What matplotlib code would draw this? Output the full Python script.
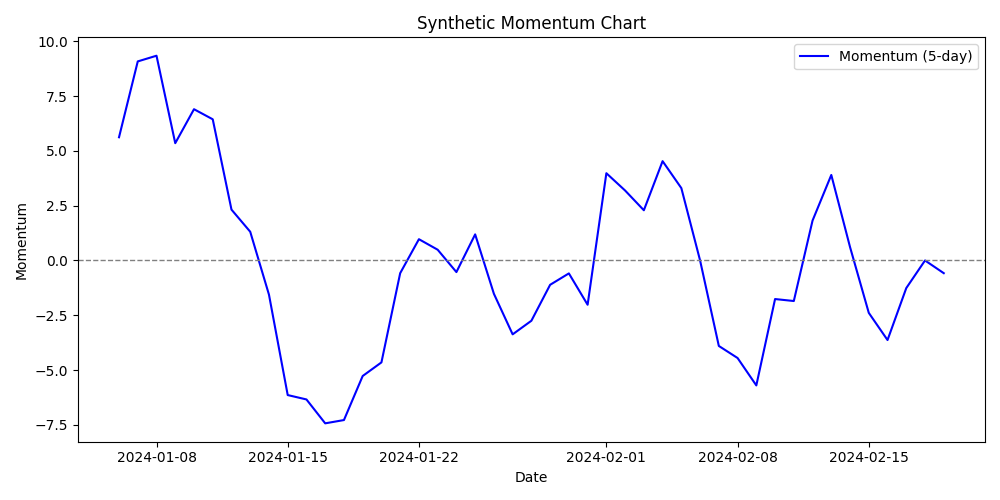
import matplotlib
matplotlib.use("Agg")
import matplotlib.pyplot as plt
import numpy as np
import pandas as pd

# daily momentum values
dates = pd.date_range("2024-01-06", "2024-02-19", freq="D")
momentum = [5.62, 9.08, 9.34, 5.35, 6.90, 6.44, 2.32, 1.31, -1.56, -6.14,
            -6.34, -7.43, -7.28, -5.27, -4.65, -0.58, 0.97, 0.49, -0.53, 1.19,
            -1.52, -3.37, -2.75, -1.11, -0.59, -2.02, 3.98, 3.19, 2.29, 4.53,
            3.30, 0.0, -3.90, -4.45, -5.70, -1.76, -1.85, 1.82, 3.90, 0.61,
            -2.39, -3.63, -1.26, 0.0, -0.58]

fig, ax = plt.subplots(figsize=(10, 5), dpi=100)
ax.plot(dates, momentum, color="blue", label="Momentum (5-day)")
ax.axhline(0, color="gray", linestyle="--", linewidth=1)
ax.set_title("Synthetic Momentum Chart")
ax.set_xlabel("Date")
ax.set_ylabel("Momentum")
ax.legend()
plt.tight_layout()
plt.savefig("out.png")
